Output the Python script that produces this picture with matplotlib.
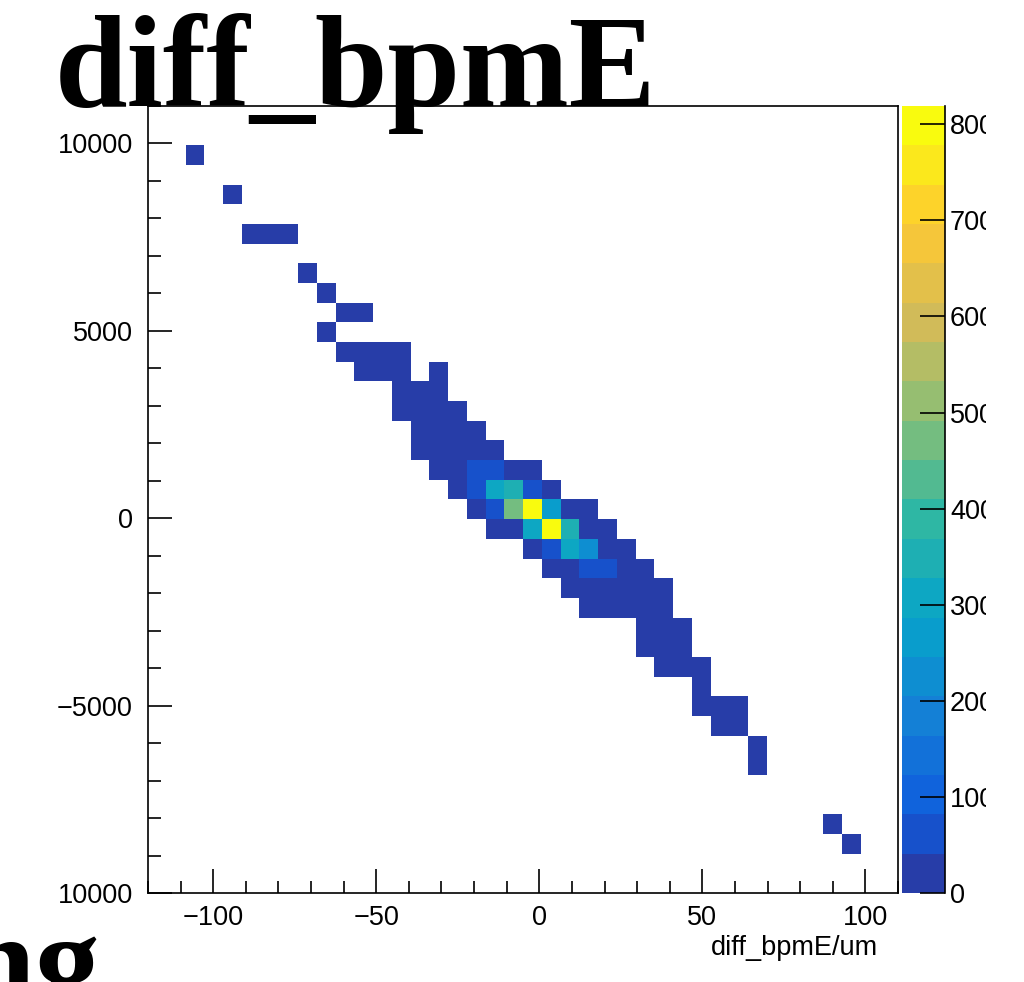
#!/usr/bin/env python3
"""ROOT-style COLZ histogram: diff_bpmE correlation."""

import matplotlib
matplotlib.use("Agg")
import matplotlib.pyplot as plt
import numpy as np
from matplotlib.colors import ListedColormap, BoundaryNorm, LinearSegmentedColormap
from matplotlib.ticker import FixedLocator, MultipleLocator
from matplotlib.transforms import Bbox, TransformedBbox

# ---------------------------------------------------------------------------
# Data: filled bins (bin centre in x [um], bin centre in y, entries)
# ---------------------------------------------------------------------------
diff_x = [
    -105.6,
    -94.1,
    -88.4, -82.6, -76.9,
    -71.1,
    -65.4,
    -59.6, -53.9,
    -65.4,
    -59.6, -53.9, -48.1, -42.4,
    -53.9, -48.1, -42.4, -30.9,
    -42.4, -36.6, -30.9,
    -42.4, -36.6, -30.9, -25.1,
    -36.6, -30.9, -25.1, -19.4,
    -36.6, -30.9, -25.1, -19.4, -13.6,
    -30.9, -25.1, -19.4, -13.6, -7.9, -2.1,
    -25.1, -19.4, -13.6, -7.9, -2.1, 3.6,
    -19.4, -13.6, -7.9, -2.1, 3.6, 9.4, 15.1,
    -13.6, -7.9, -2.1, 3.6, 9.4, 15.1, 20.9,
    -2.1, 3.6, 9.4, 15.1, 20.9, 26.6,
    3.6, 9.4, 15.1, 20.9, 26.6, 32.4,
    9.4, 15.1, 20.9, 26.6, 32.4, 38.1,
    15.1, 20.9, 26.6, 32.4, 38.1,
    32.4, 38.1, 43.9,
    32.4, 38.1, 43.9,
    38.1, 43.9, 49.6,
    49.6,
    49.6, 55.4, 61.1,
    55.4, 61.1,
    66.9,
    66.9,
    89.9,
    95.6,
]
diff_y = [
    9690,
    8640,
    7590, 7590, 7590,
    6540,
    6010,
    5490, 5490,
    4960,
    4440, 4440, 4440, 4440,
    3910, 3910, 3910, 3910,
    3390, 3390, 3390,
    2860, 2860, 2860, 2860,
    2340, 2340, 2340, 2340,
    1810, 1810, 1810, 1810, 1810,
    1290, 1290, 1290, 1290, 1290, 1290,
    760, 760, 760, 760, 760, 760,
    240, 240, 240, 240, 240, 240, 240,
    -290, -290, -290, -290, -290, -290, -290,
    -810, -810, -810, -810, -810, -810,
    -1340, -1340, -1340, -1340, -1340, -1340,
    -1860, -1860, -1860, -1860, -1860, -1860,
    -2390, -2390, -2390, -2390, -2390,
    -2910, -2910, -2910,
    -3440, -3440, -3440,
    -3960, -3960, -3960,
    -4490,
    -5010, -5010, -5010,
    -5540, -5540,
    -6060,
    -6590,
    -8160,
    -8690,
]
entries = [
    3,
    4,
    5, 8, 6,
    7,
    9,
    8, 6,
    5,
    11, 14, 16, 12,
    13, 18, 22, 10,
    20, 27, 24,
    19, 30, 33, 21,
    24, 35, 38, 26,
    22, 36, 39, 37, 20,
    31, 38, 60, 70, 36, 28,
    34, 75, 310, 350, 65, 30,
    36, 80, 470, 819, 270, 33, 22,
    25, 38, 310, 800, 350, 37, 26,
    35, 70, 300, 230, 34, 21,
    30, 37, 60, 62, 33, 18,
    24, 32, 36, 34, 28, 17,
    22, 30, 32, 27, 15,
    20, 24, 14,
    16, 21, 12,
    12, 15, 11,
    9,
    8, 10, 7,
    6, 7,
    5,
    4,
    2,
    2,
]

x_ticks = [-100, -50, 0, 50, 100]
y_ticks = [-10000, -5000, 0, 5000, 10000]
# the canvas edge cuts the minus sign of the lowest label
y_tick_labels = ["10000", "\u22125000", "0", "5000", "10000"]
z_ticks = [0, 100, 200, 300, 400, 500, 600, 700, 800]

x_edges = np.linspace(-120, 110, 41)
y_edges = np.linspace(-10000, 11000, 41)
z_max = 819
n_levels = 20

# ---------------------------------------------------------------------------
# ROOT kBird palette, 20 contour levels
# ---------------------------------------------------------------------------
stops = [0.0, 0.125, 0.25, 0.375, 0.5, 0.625, 0.75, 0.875, 1.0]
red = [0.2082, 0.0592, 0.0780, 0.0232, 0.1802, 0.5301, 0.8186, 0.9956, 0.9764]
green = [0.1664, 0.3599, 0.5041, 0.6419, 0.7178, 0.7492, 0.7328, 0.7862, 0.9832]
blue = [0.5293, 0.8684, 0.8385, 0.7914, 0.6425, 0.4662, 0.3499, 0.1968, 0.0539]
bird = LinearSegmentedColormap.from_list(
    "bird", list(zip(stops, zip(red, green, blue))), N=255)
band_colors = [bird(int((k + 0.99) * 255 / n_levels) / 254) for k in range(n_levels)]
cmap = ListedColormap(band_colors)
norm = BoundaryNorm(np.linspace(0, z_max, n_levels + 1), n_levels)

H, _, _ = np.histogram2d(diff_x, diff_y, bins=[x_edges, y_edges], weights=entries)
H = np.ma.masked_where(H == 0, H)

# ---------------------------------------------------------------------------
# Figure
# ---------------------------------------------------------------------------
W, Hpx = 1024, 982
fig = plt.figure(figsize=(W / 100, Hpx / 100), dpi=100)
fig.patch.set_facecolor("white")

sans = ["Liberation Sans", "DejaVu Sans"]
serif = ["Liberation Serif", "DejaVu Serif"]

ax = fig.add_axes([148 / W, 1 - 893 / Hpx, 750 / W, 787 / Hpx])
mesh = ax.pcolormesh(x_edges, y_edges, H.T, cmap=cmap, norm=norm,
                     linewidth=0, antialiased=False)
ax.set_xlim(-120, 110)
ax.set_ylim(-10000, 11000)

for sp in ax.spines.values():
    sp.set_linewidth(1.2)

ax.xaxis.set_major_locator(FixedLocator(x_ticks))
ax.xaxis.set_minor_locator(MultipleLocator(10))
ax.yaxis.set_major_locator(FixedLocator(y_ticks))
ax.yaxis.set_minor_locator(MultipleLocator(1000))
ax.set_yticklabels(y_tick_labels)
ax.tick_params(which="both", direction="in", top=False, right=False, width=1.2)
ax.tick_params(which="major", length=17)
ax.tick_params(which="minor", length=9)
ax.tick_params(axis="x", which="major", pad=8.6)
ax.tick_params(axis="y", which="major", pad=10.8)
for lab in ax.get_xticklabels() + ax.get_yticklabels():
    lab.set_fontfamily(sans)
    lab.set_fontsize(19.5)

ax.set_xlabel("diff_bpmE/um", loc="right", family=sans, fontsize=19.5)
ax.xaxis.set_label_coords((878 - 148) / 750, (893 - 935) / 787)

# colour scale
cax = fig.add_axes([902 / W, 1 - 893 / Hpx, 43 / W, 787 / Hpx])
cb = fig.colorbar(mesh, cax=cax, ticks=z_ticks)
cb.outline.set_visible(False)
cax.plot([1, 1], [0, 1], color="black", lw=1.2, transform=cax.transAxes,
         clip_on=False)
cax.yaxis.set_ticks_position("right")
cax.tick_params(which="major", direction="in", length=18, width=1.2, pad=3.6)
cax.minorticks_off()
for lab in cax.get_yticklabels():
    lab.set_fontfamily(sans)
    lab.set_fontsize(19.5)

# the source canvas cut the palette labels on the right
fig.canvas.draw()
right_clip = TransformedBbox(Bbox([[0, 0], [986 / W, 1]]), fig.transFigure)
for lab in cax.get_yticklabels():
    lab.set_clip_box(right_clip)
    lab.set_clip_on(True)

# slide title and the fragment of the next word
fig.text(55 / W, 1 - 106 / Hpx, "diff_bpmE", family=serif, fontweight="bold",
         fontsize=94, ha="left", va="baseline")
fig.text(100 / W, 1 - 1004 / Hpx, "ng", family=serif, fontweight="bold",
         fontsize=94, ha="right", va="baseline")

fig.savefig("out.png", dpi=100)
